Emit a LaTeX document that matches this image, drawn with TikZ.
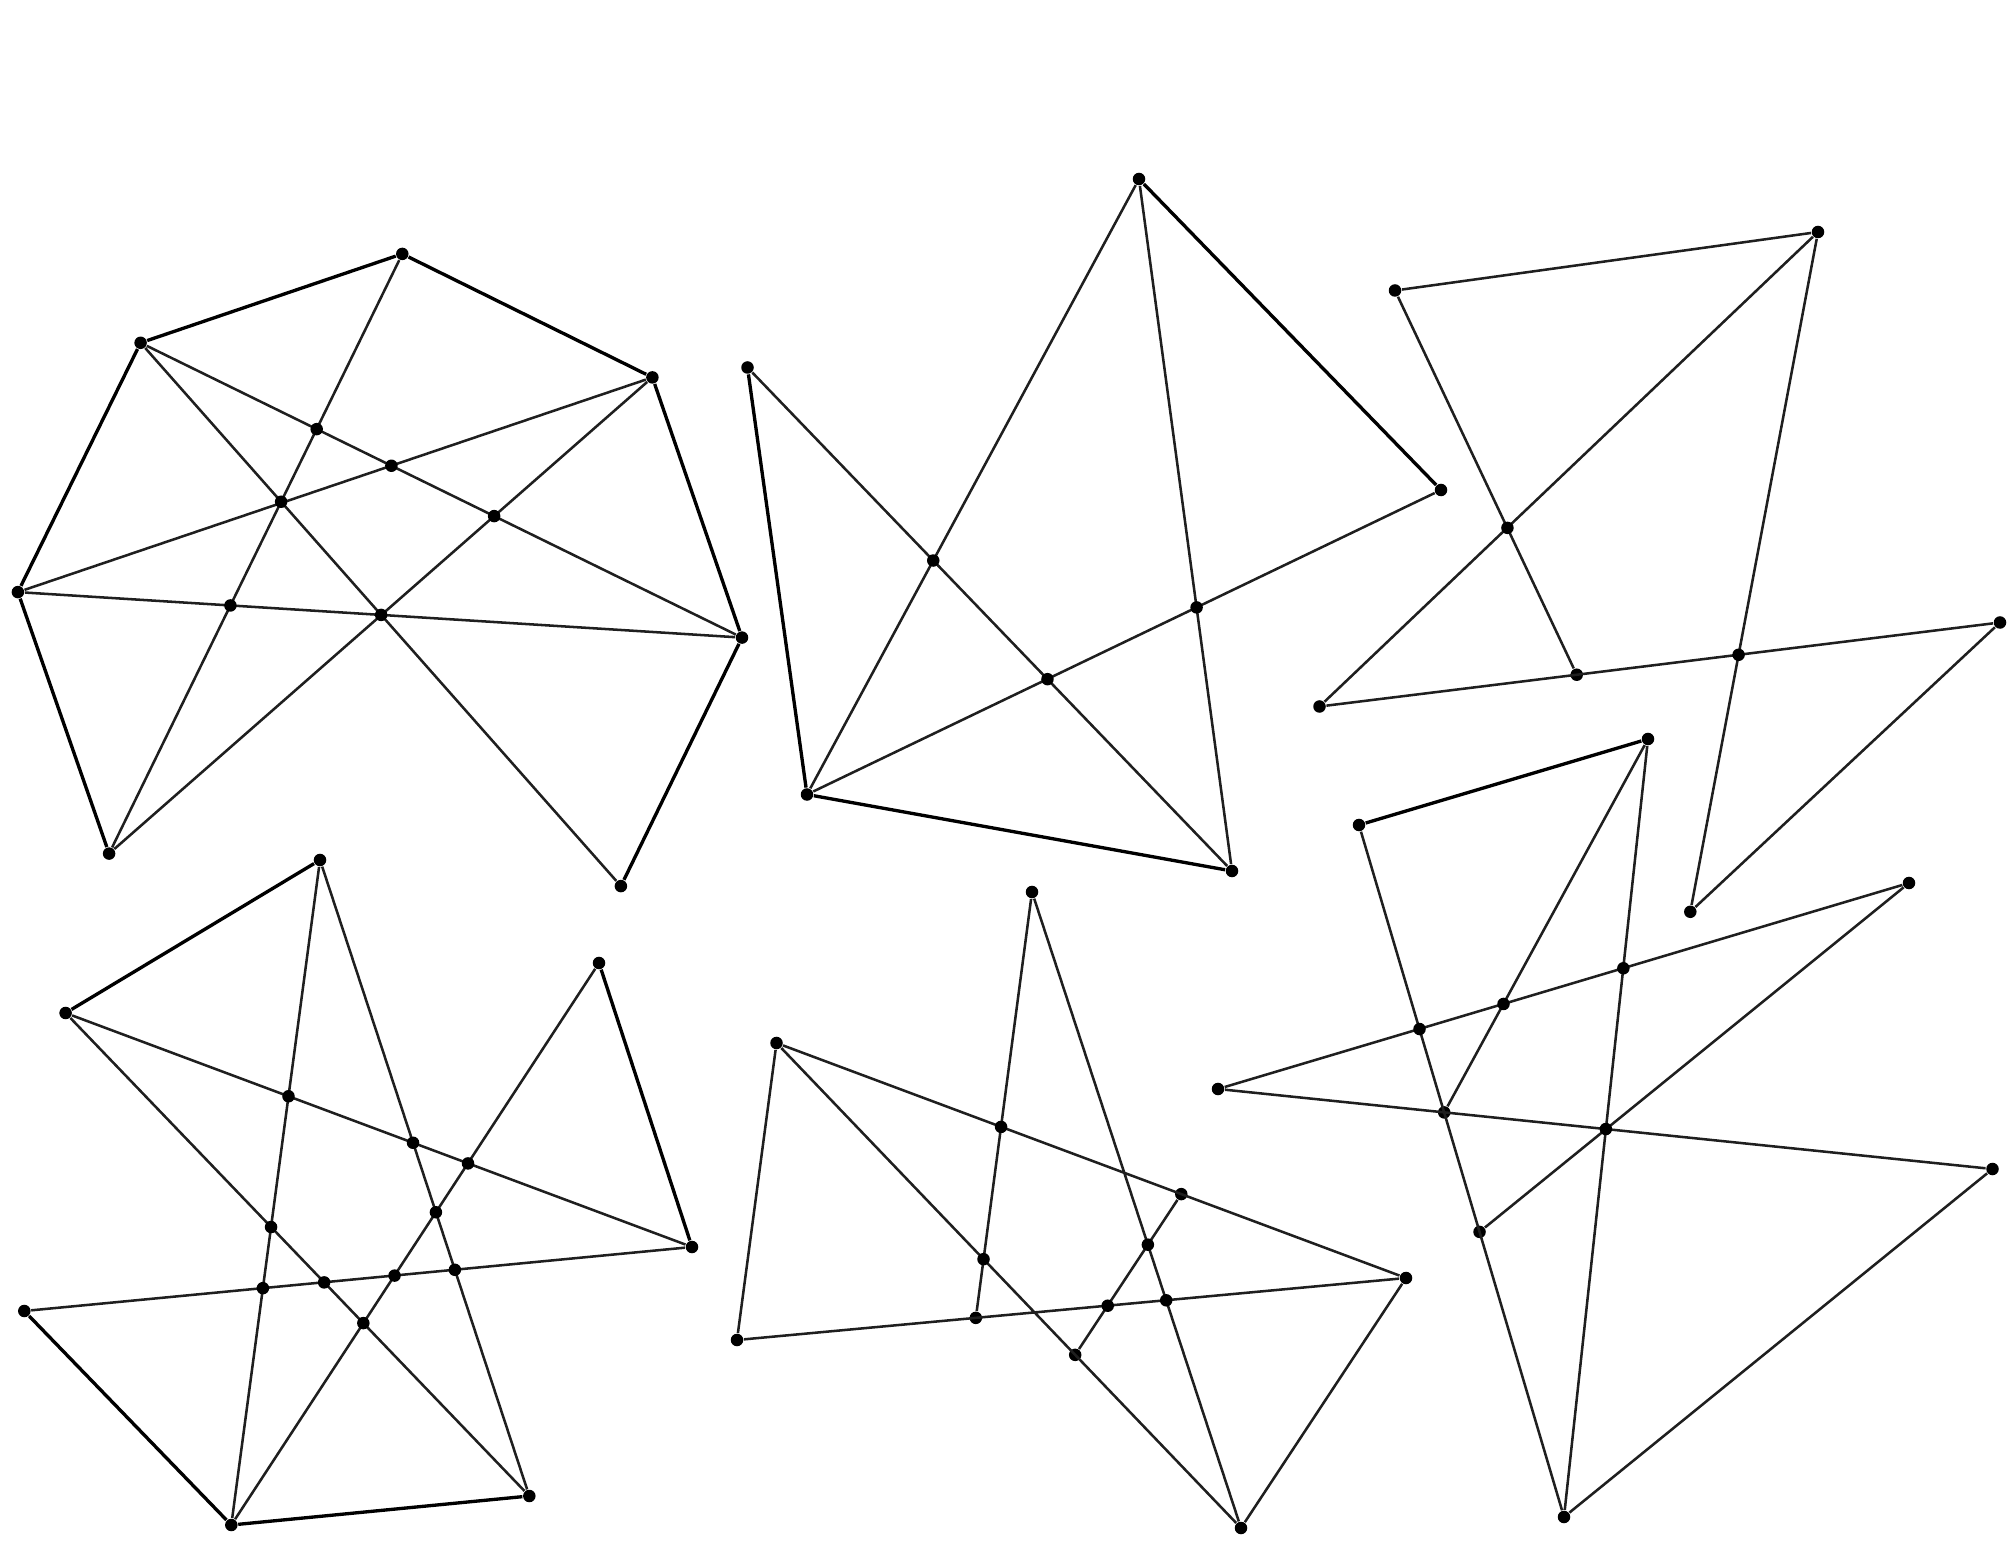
\documentclass[tikz,border=0pt]{standalone}
\usetikzlibrary{calc}
\tikzset{
  vtx/.style={circle,fill=black,inner sep=0pt,minimum size=1.25mm},
  chord/.style={line width=.72pt,black!88},
  hull/.style={line width=.95pt,black},
}
\begin{document}
\begin{tikzpicture}[x=0.01cm,y=-0.01cm]
  \useasboundingbox (0,0) rectangle (2014,1552);

  \node[vtx] (a1) at (402.3,253.9) {};
  \node[vtx] (a2) at (140.6,342.8) {};
  \node[vtx] (a3) at (652.4,377.4) {};
  \node[vtx] (a4) at (17.9,592.1) {};
  \node[vtx] (a5) at (742,637.6) {};
  \node[vtx] (a6) at (109.1,853.6) {};
  \node[vtx] (a7) at (620.9,886.1) {};
  \draw[hull] (a7) -- (a5) -- (a3) -- (a1) -- (a2) -- (a4) -- (a6);
  \draw[chord] (a2) -- (a5) (a2) -- (a7) (a1) -- (a6)
    (a4) -- (a3) (a4) -- (a5) (a6) -- (a3);
  \node[vtx] (a8) at (intersection of a2.center--a5.center and a1.center--a6.center) {};
  \node[vtx] (a9) at (intersection of a2.center--a5.center and a4.center--a3.center) {};
  \node[vtx] (a10) at (intersection of a2.center--a5.center and a6.center--a3.center) {};
  \node[vtx] (a11) at (intersection of a2.center--a7.center and a1.center--a6.center) {};
  \node[vtx] (a12) at (intersection of a2.center--a7.center and a4.center--a5.center) {};
  \node[vtx] (a13) at (intersection of a1.center--a6.center and a4.center--a5.center) {};

  \node[vtx] (b1) at (1139,179) {};
  \node[vtx] (b2) at (747.5,367.5) {};
  \node[vtx] (b3) at (1441,490) {};
  \node[vtx] (b4) at (807,794.5) {};
  \node[vtx] (b5) at (1232,871) {};
  \draw[hull] (b2) -- (b4) -- (b5) (b1) -- (b3);
  \draw[chord] (b2) -- (b5) (b1) -- (b4) (b1) -- (b5) (b4) -- (b3);
  \node[vtx] (b6) at (intersection of b2.center--b5.center and b1.center--b4.center) {};
  \node[vtx] (b7) at (intersection of b2.center--b5.center and b4.center--b3.center) {};
  \node[vtx] (b8) at (intersection of b1.center--b5.center and b4.center--b3.center) {};

  \node[vtx] (c1) at (1818,232) {};
  \node[vtx] (c2) at (1395,290.5) {};
  \node[vtx] (c3) at (1319.5,706.5) {};
  \node[vtx] (c4) at (2000,622.5) {};
  \node[vtx] (c5) at (1690.3,911.8) {};
  \node[vtx] (c6) at ($(c3)!0.378!(c4)$) {};
  \draw[chord] (c2) -- (c1) -- (c3) -- (c4) -- (c5) -- (c1) (c2) -- (c6);
  \node[vtx] (c7) at (intersection of c1.center--c3.center and c2.center--c6.center) {};
  \node[vtx] (c8) at (intersection of c3.center--c4.center and c1.center--c5.center) {};

  \node[vtx] (d1) at (320,860) {};
  \node[vtx] (d2) at (65.6,1013) {};
  \node[vtx] (d3) at (599,963) {};
  \node[vtx] (d4) at (692,1247) {};
  \node[vtx] (d5) at (24.3,1311) {};
  \node[vtx] (d6) at (231.3,1525) {};
  \node[vtx] (d7) at (529.3,1496) {};
  \draw[hull] (d1) -- (d2) (d3) -- (d4) (d5) -- (d6) -- (d7);
  \draw[chord] (d2) -- (d4) (d1) -- (d6) (d1) -- (d7)
    (d3) -- (d6) (d2) -- (d7) (d5) -- (d4);
  \node[vtx] (d8) at (intersection of d2.center--d4.center and d1.center--d6.center) {};
  \node[vtx] (d9) at (intersection of d2.center--d4.center and d1.center--d7.center) {};
  \node[vtx] (d10) at (intersection of d2.center--d4.center and d3.center--d6.center) {};
  \node[vtx] (d11) at (intersection of d1.center--d7.center and d3.center--d6.center) {};
  \node[vtx] (d12) at (intersection of d1.center--d6.center and d2.center--d7.center) {};
  \node[vtx] (d13) at (intersection of d1.center--d6.center and d5.center--d4.center) {};
  \node[vtx] (d14) at (intersection of d2.center--d7.center and d5.center--d4.center) {};
  \node[vtx] (d15) at (intersection of d3.center--d6.center and d5.center--d4.center) {};
  \node[vtx] (d16) at (intersection of d1.center--d7.center and d5.center--d4.center) {};
  \node[vtx] (d17) at (intersection of d2.center--d7.center and d3.center--d6.center) {};

  \node[vtx] (e1) at (1032,892) {};
  \node[vtx] (e2) at (776.5,1043) {};
  \node[vtx] (e3) at (737,1340) {};
  \node[vtx] (e4) at (1406,1278) {};
  \node[vtx] (e5) at (1241,1528) {};
  \node[vtx] (e6) at ($(e3)!0.357!(e4)$) {};
  \node[vtx] (e7) at ($(e2)!0.643!(e4)$) {};
  \node[vtx] (e8) at ($(e2)!0.643!(e5)$) {};
  \draw[chord] (e2) -- (e3) -- (e4) -- (e5) -- (e1) -- (e6)
    (e2) -- (e4) (e2) -- (e5) (e7) -- (e8);
  \node[vtx] (e9) at (intersection of e1.center--e6.center and e2.center--e4.center) {};
  \node[vtx] (e10) at (intersection of e7.center--e8.center and e1.center--e5.center) {};
  \node[vtx] (e11) at (intersection of e1.center--e6.center and e2.center--e5.center) {};
  \node[vtx] (e12) at (intersection of e7.center--e8.center and e3.center--e4.center) {};
  \node[vtx] (e13) at (intersection of e1.center--e5.center and e3.center--e4.center) {};

  \node[vtx] (f1) at (1648,739) {};
  \node[vtx] (f2) at (1359,825) {};
  \node[vtx] (f3) at (1909,883) {};
  \node[vtx] (f4) at (1218,1089) {};
  \node[vtx] (f5) at (1992.5,1169) {};
  \node[vtx] (f6) at (1564,1517) {};
  \node[vtx] (f7) at (intersection of f2.center--f6.center and f4.center--f5.center) {};
  \node[vtx] (f8) at ($(f2)!0.588!(f6)$) {};
  \draw[hull] (f2) -- (f1);
  \draw[chord] (f2) -- (f6) -- (f1) -- (f7) (f4) -- (f3) -- (f8)
    (f4) -- (f5) -- (f6);
  \node[vtx] (f9) at (intersection of f4.center--f3.center and f1.center--f6.center) {};
  \node[vtx] (f10) at (intersection of f4.center--f3.center and f1.center--f7.center) {};
  \node[vtx] (f11) at (intersection of f4.center--f3.center and f2.center--f6.center) {};
  \node[vtx] (f12) at (intersection of f1.center--f6.center and f4.center--f5.center) {};
\end{tikzpicture}
\end{document}
